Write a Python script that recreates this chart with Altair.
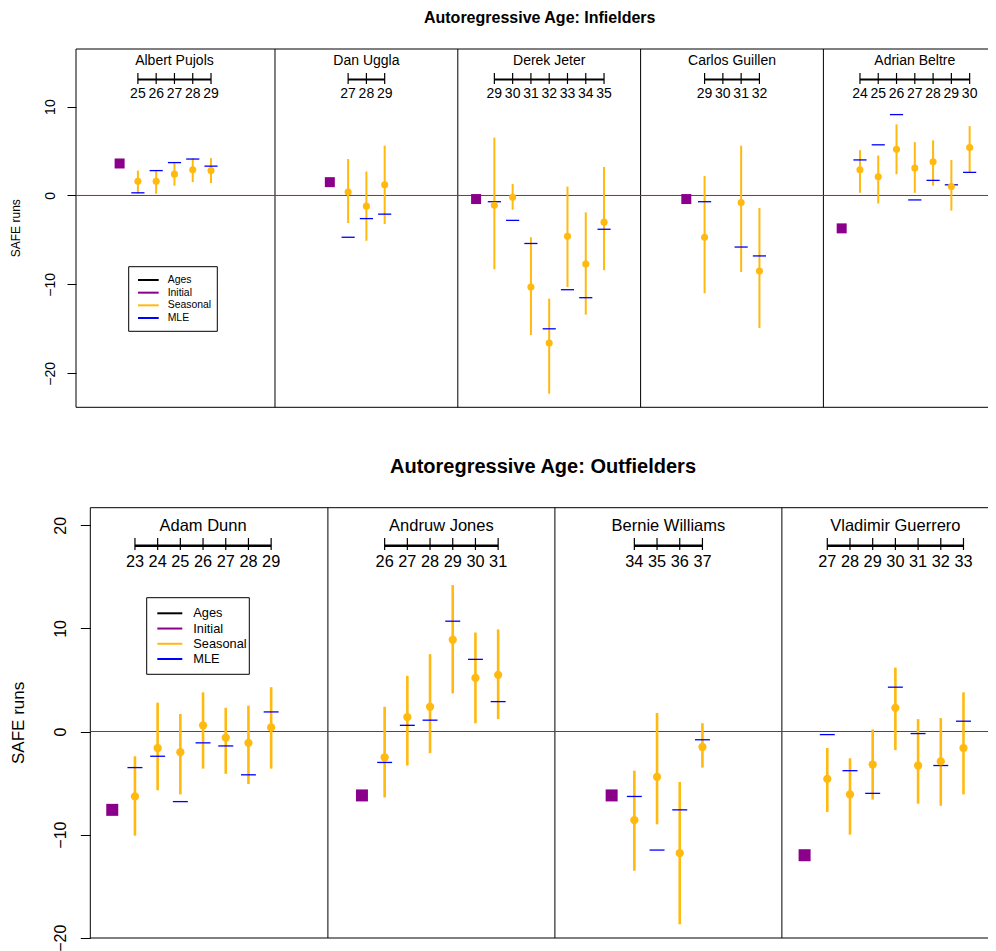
import altair as alt
import pandas as pd

FONT = "Liberation Sans"
ORANGE = "#FFB90F"
PURPLE = "#8B008B"
BLUE = "#0000FF"

# ---------------- Infielders ----------------
TOP_PLAYERS = ["Albert Pujols", "Dan Uggla", "Derek Jeter", "Carlos Guillen", "Adrian Beltre"]
TOP_AGES = [[25, 26, 27, 28, 29], [27, 28, 29], [29, 30, 31, 32, 33, 34, 35],
            [29, 30, 31, 32], [24, 25, 26, 27, 28, 29, 30]]
TOP_INITIAL = [3.6, 1.5, -0.4, -0.4, -3.7]
TOP_SEASONAL = [[1.6, 1.6, 2.4, 2.9, 2.8], [0.4, -1.2, 1.2],
                [-1.1, -0.2, -10.3, -16.6, -4.6, -7.7, -3.0],
                [-4.7, None, -0.8, -8.5], [2.9, 2.1, 5.2, 3.1, 3.8, 1.0, 5.4]]
TOP_LO = [[0.2, 0.2, 1.1, 1.5, 1.4], [-3.1, -5.1, -3.2],
          [-8.3, -1.6, -15.7, -22.3, -10.3, -13.4, -8.4],
          [-11.0, None, -8.6, -14.9], [0.3, -0.9, 2.4, 0.3, 1.1, -1.7, 2.6]]
TOP_HI = [[2.8, 2.8, 3.7, 4.2, 4.2], [4.1, 2.7, 5.6],
          [6.5, 1.3, -4.7, -11.6, 1.0, -1.9, 3.2],
          [2.2, None, 5.6, -1.4], [5.1, 4.5, 8.0, 6.0, 6.2, 4.0, 7.8]]
TOP_MLE = [[0.3, 2.8, 3.7, 4.1, 3.3], [-4.7, -2.6, -2.1],
           [-0.7, -2.8, -5.4, -15.0, -10.6, -11.5, -3.8],
           [-0.7, None, -5.8, -6.8], [4.0, 5.7, 9.1, -0.5, 1.7, 1.2, 2.6]]

# ---------------- Outfielders ----------------
BOT_PLAYERS = ["Adam Dunn", "Andruw Jones", "Bernie Williams", "Vladimir Guerrero"]
BOT_AGES = [[23, 24, 25, 26, 27, 28, 29], [26, 27, 28, 29, 30, 31],
            [34, 35, 36, 37], [27, 28, 29, 30, 31, 32, 33]]
BOT_INITIAL = [-7.6, -6.2, -6.2, -12.0]
BOT_SEASONAL = [[-6.3, -1.6, -2.0, 0.6, -0.6, -1.1, 0.4], [-2.5, 1.4, 2.4, 8.9, 5.2, 5.5],
                [-8.6, -4.4, -11.8, -1.5], [-4.6, -6.1, -3.2, 2.3, -3.3, -2.9, -1.6]]
BOT_LO = [[-10.1, -5.7, -6.1, -3.6, -4.1, -5.1, -3.6], [-6.4, -3.3, -2.1, 3.7, 0.8, 1.2],
          [-13.5, -9.0, -18.7, -3.5], [-7.8, -10.0, -6.6, -1.8, -7.0, -7.2, -6.1]]
BOT_HI = [[-2.4, 2.8, 1.7, 3.8, 2.3, 2.5, 4.3], [2.4, 5.4, 7.5, 14.2, 9.6, 9.9],
          [-3.8, 1.8, -4.9, 0.8], [-1.6, -2.6, 0.2, 6.2, 1.2, 1.3, 3.8]]
BOT_MLE = [[-3.5, -2.4, -6.8, -1.1, -1.4, -4.2, 1.9], [-3.0, 0.6, 1.1, 10.7, 7.0, 2.9],
           [-6.3, -11.5, -7.6, -0.8], [-0.3, -3.8, -6.0, 4.3, -0.2, -3.3, 1.0]]

LEGEND_LABELS = ["Ages", "Initial", "Seasonal", "MLE"]
LEGEND_COLORS = ["black", PURPLE, ORANGE, BLUE]


def build_tables(players, ages, initial, seas, lo, hi, mle, half):
    init_rows, pt_rows, age_rows, name_rows = [], [], [], []
    for k, name in enumerate(players):
        n = len(ages[k])
        x0 = 10 * k + (10 - (n + 1)) / 2 - (0.5 if k == 0 else 0)
        init_rows.append({"x": x0, "v": initial[k]})
        name_rows.append({"name": name, "xc": x0 + 1 + (n - 1) / 2, "xa": x0 + 1, "xb": x0 + n})
        for j, a in enumerate(ages[k]):
            xp = x0 + 1 + j
            age_rows.append({"x": xp, "age": str(a)})
            if seas[k][j] is None:
                continue
            pt_rows.append({"x": xp, "xl": xp - half, "xr": xp + half, "v": seas[k][j],
                            "lo": lo[k][j], "hi": hi[k][j], "mle": mle[k][j]})
    return (pd.DataFrame(init_rows), pd.DataFrame(pt_rows),
            pd.DataFrame(age_rows), pd.DataFrame(name_rows))


def panel(players, ages, initial, seas, lo, hi, mle, st):
    xd, xr = st["xdom"], st["xrange"]
    yd, yr = st["ydom"], st["yrange"]
    init_df, pt_df, age_df, name_df = build_tables(players, ages, initial, seas, lo, hi, mle, st["half"])

    def X(f):
        return alt.X(f, type="quantitative", axis=None,
                     scale=alt.Scale(domain=xd, range=xr, nice=False, zero=False))

    def Y(f, axis=None):
        return alt.Y(f, type="quantitative", axis=axis,
                     scale=alt.Scale(domain=yd, range=yr, nice=False, zero=False))

    layers = []
    # frame
    hframe = pd.DataFrame({"y": [yd[0], yd[1]], "x": [xd[0]] * 2, "x2": [xd[1]] * 2})
    layers.append(alt.Chart(hframe).mark_rule(color="black", strokeWidth=1).encode(
        x=X("x"), x2="x2", y=Y("y")))
    vframe = pd.DataFrame({"x": [xd[0]] + st["dividers"]})
    vframe["y"] = yd[0]
    vframe["y2"] = yd[1]
    layers.append(alt.Chart(vframe).mark_rule(color="black", strokeWidth=1).encode(
        x=X("x"), y=Y("y"), y2="y2"))
    # zero line carrying the axis
    zero = pd.DataFrame({"x": [xd[0]], "x2": [xd[1]], "y": [0.0]})
    axis = alt.Axis(values=st["yticks"], orient="left", offset=st["axis_offset"], domain=False,
                    grid=False, ticks=True, tickSize=st["ticksize"], tickColor="black", tickWidth=1,
                    labelAngle=270, labelAlign="center", labelBaseline="middle",
                    labelPadding=st["labelpad"], labelFontSize=st["axisfont"], labelFont=FONT,
                    labelColor="black", title=None, labelOverlap=False, labelFlush=False)
    layers.append(alt.Chart(zero).mark_rule(color="red", strokeWidth=1).encode(
        x=X("x"), x2="x2", y=Y("y", axis)))
    # error bars
    layers.append(alt.Chart(pt_df).mark_rule(color=ORANGE, strokeWidth=st["barw"]).encode(
        x=X("x"), y=Y("lo"), y2="hi"))
    # MLE
    layers.append(alt.Chart(pt_df).mark_rule(color=BLUE, strokeWidth=1.3).encode(
        x=X("xl"), x2="xr", y=Y("mle")))
    # seasonal points
    layers.append(alt.Chart(pt_df).mark_circle(color=ORANGE, opacity=1, size=st["dot"]).encode(
        x=X("x"), y=Y("v")))
    # initial squares
    layers.append(alt.Chart(init_df).mark_square(color=PURPLE, opacity=1, size=st["sq"]).encode(
        x=X("x"), y=Y("v")))
    # header: names, age axis
    layers.append(alt.Chart(name_df).mark_text(font=FONT, fontSize=st["namefont"], baseline="alphabetic",
                                               color="black").encode(
        x=X("xc"), y=alt.value(st["name_y"]), text="name:N"))
    layers.append(alt.Chart(name_df).mark_rule(color="black", strokeWidth=st["axlinew"]).encode(
        x=X("xa"), x2="xb", y=alt.value(st["axline_y"])))
    layers.append(alt.Chart(age_df).mark_rule(color="black", strokeWidth=1.2).encode(
        x=X("x"), y=alt.value(st["tick_y"][0]), y2=alt.value(st["tick_y"][1])))
    layers.append(alt.Chart(age_df).mark_text(font=FONT, fontSize=st["agefont"], baseline="alphabetic",
                                              color="black").encode(
        x=X("x"), y=alt.value(st["age_y"]), text="age:N"))
    # legend
    one = pd.DataFrame({"a": [0]})
    bx = st["legbox"]
    layers.append(alt.Chart(one).mark_rect(fill="white", stroke="black", strokeWidth=1).encode(
        x=alt.value(bx[0]), x2=alt.value(bx[1]), y=alt.value(bx[2]), y2=alt.value(bx[3])))
    leg = pd.DataFrame({"label": LEGEND_LABELS, "row": list(range(len(LEGEND_LABELS)))})
    LY = alt.Y("row:Q", axis=None, scale=alt.Scale(domain=[0, 3], range=st["legrows"], nice=False, zero=False))
    LC = alt.Color("label:N", legend=None, scale=alt.Scale(domain=LEGEND_LABELS, range=LEGEND_COLORS))
    layers.append(alt.Chart(leg).mark_rule(strokeWidth=2).encode(
        x=alt.value(st["legline"][0]), x2=alt.value(st["legline"][1]), y=LY, color=LC))
    layers.append(alt.Chart(leg).mark_text(font=FONT, fontSize=st["legfont"], align="left",
                                           baseline="middle", color="black").encode(
        x=alt.value(st["legtext"]), y=LY, text="label:N"))
    # titles
    t = pd.DataFrame({"t": [st["title"]]})
    layers.append(alt.Chart(t).mark_text(font=FONT, fontSize=st["titlefont"], fontWeight="bold",
                                         baseline="alphabetic", color="black").encode(
        x=alt.value(st["title_xy"][0]), y=alt.value(st["title_xy"][1]), text="t:N"))
    yt = pd.DataFrame({"t": ["SAFE runs"]})
    layers.append(alt.Chart(yt).mark_text(font=FONT, fontSize=st["ytitlefont"], angle=270,
                                          align="center", baseline="middle", color="black").encode(
        x=alt.value(st["ytitle_xy"][0]), y=alt.value(st["ytitle_xy"][1]), text="t:N"))
    return layers


TOP_STYLE = dict(
    xdom=[-0.886, 49.004], xrange=[0, 912], ydom=[-23.83, 16.48], yrange=[358.3, 0],
    dividers=[10, 20, 30, 40], yticks=[-20, -10, 0, 10], axis_offset=0, ticksize=9, labelpad=17,
    axisfont=14, half=0.36, barw=2, dot=50, sq=100, namefont=14, name_y=15.5, axlinew=2,
    axline_y=30.5, tick_y=[24, 35], agefont=14, age_y=49.3,
    legbox=[52.7, 141.3, 217.7, 282.3], legrows=[231, 269], legline=[62, 82.7], legtext=91.7,
    legfont=10.4, title="Autoregressive Age: Infielders", titlefont=16, title_xy=[463.7, -26.0],
    ytitlefont=12, ytitle_xy=[-60, 179.2],
)
BOT_STYLE = dict(
    xdom=[-0.467, 39.08], xrange=[14.3, 912], ydom=[-20.03, 21.71], yrange=[889, 458.7],
    dividers=[10, 20, 30], yticks=[-20, -10, 0, 10, 20], axis_offset=-14.3, ticksize=10, labelpad=20,
    axisfont=16, half=0.33, barw=2.6, dot=68, sq=144, namefont=16.5, name_y=481.7, axlinew=2.6,
    axline_y=496.7, tick_y=[489, 501], agefont=16.3, age_y=518.3,
    legbox=[70.7, 173.3, 548.7, 625.3], legrows=[564.3, 610], legline=[81.3, 106.3], legtext=117.3,
    legfont=12.8, title="Autoregressive Age: Outfielders", titlefont=20, title_xy=[467, 424],
    ytitlefont=17, ytitle_xy=[-57, 673.9],
)

layers = (panel(TOP_PLAYERS, TOP_AGES, TOP_INITIAL, TOP_SEASONAL, TOP_LO, TOP_HI, TOP_MLE, TOP_STYLE)
          + panel(BOT_PLAYERS, BOT_AGES, BOT_INITIAL, BOT_SEASONAL, BOT_LO, BOT_HI, BOT_MLE, BOT_STYLE))

chart = alt.layer(*layers).resolve_scale(
    x="independent", y="independent", color="independent"
).properties(
    width=912, height=889,
    autosize=alt.AutoSizeParams(type="none"),
    padding={"left": 68, "top": 41, "right": 0, "bottom": 13},
    background="white",
).configure_view(stroke=None)

chart.save("out.html", embed_options={"renderer": "svg", "actions": False})
